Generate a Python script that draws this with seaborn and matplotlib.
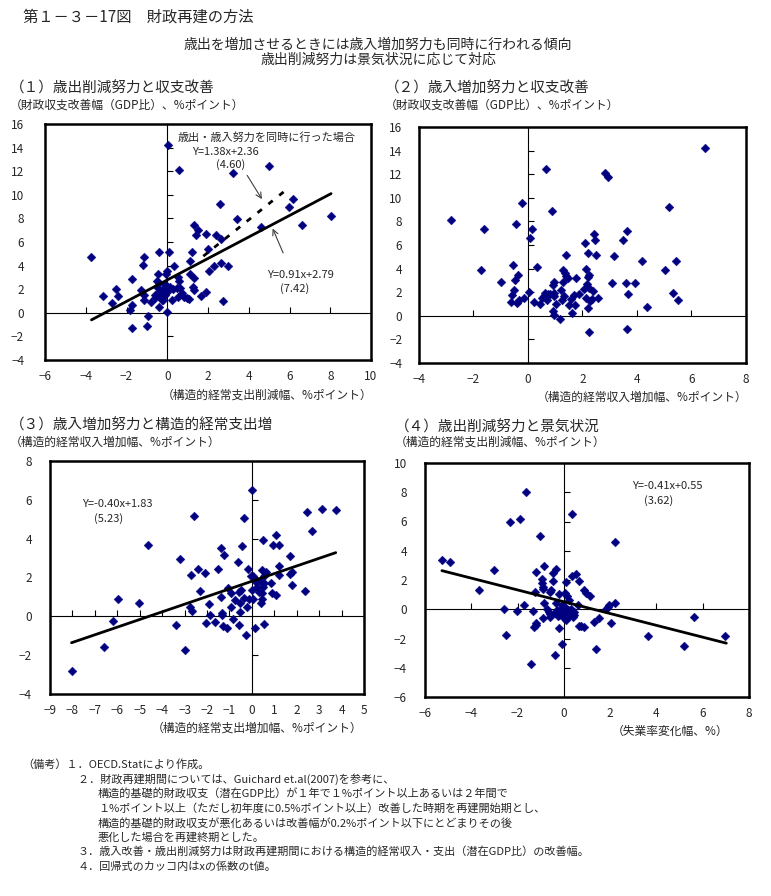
import numpy as np
import pandas as pd
import matplotlib
matplotlib.use("Agg")
import matplotlib.pyplot as plt
import seaborn as sns

# ---- data ----
# (1) expenditure cut vs. balance improvement
p1_x = [-3.76, -3.14, -2.50, -2.41, -2.70, -1.72, -1.72, -1.83, -1.75, -1.28, -1.13, -1.18,
        -1.15, -1.15, -0.93, -0.98, -0.82, -0.41, -0.46, -0.52, -0.39, -0.59, -0.5, -0.4,
        -0.3, -0.2, -0.1, -0.3, -0.2, -0.4, -0.6, -0.1, 0.0, -0.2, -0.25, -0.03, 0.02, 0.10,
        0.0, -0.08, 0.13, 0.21, 0.34, 0.29, 0.59, 0.54, 0.59, 0.46, 0.51, 0.62, 0.70, 0.83,
        0.95, 1.05, 1.11, 1.11, 1.23, 1.28, 1.31, 1.31, 1.33, 1.39, 1.49, 1.65, 1.88, 1.88,
        2.01, 2.05, 2.31, 2.39, 2.59, 2.64, 2.64, 2.75, 3.00, 3.24, 3.40, 4.60, 5.01, 5.97,
        6.19, 6.63, 8.04]
p1_y = [4.74, 1.39, 2.02, 1.39, 0.82, 2.87, 0.68, 0.20, -1.31, 1.90, 4.74, 4.03,
        1.53, 1.05, -0.23, -1.08, 0.88, 5.14, 3.32, 2.73, 0.45, 1.25, 2.2, 1.8,
        1.6, 2.0, 1.5, 1.3, 1.1, 2.5, 1.5, 2.4, 1.8, 1.7, 1.05, 0.06, 14.26, 5.17,
        3.58, 3.32, 2.16, 1.05, 3.95, 2.02, 12.13, 3.04, 2.67, 2.10, 1.31, 2.10, 1.68, 1.34,
        1.25, 1.19, 3.30, 4.38, 5.17, 2.19, 2.95, 1.96, 7.44, 6.56, 7.02, 1.39, 1.76, 6.70,
        5.43, 3.52, 3.95, 6.56, 9.26, 6.28, 4.23, 1.02, 3.95, 11.82, 7.93, 7.30, 12.47, 8.98,
        9.63, 7.44, 8.21]
p1_fit_x = [-3.72, 8.04]
p1_fit_y = [-0.60, 10.10]
p1_both_x = [1.77, 6.02]
p1_both_y = [4.80, 10.67]

# (2) revenue increase vs. balance improvement
p2_x = [-2.83, -1.73, -1.62, -0.99, -0.64, -0.59, -0.53, -0.55, -0.49, -0.44, -0.38, -0.40,
        -0.32, -0.23, -0.13, 0.04, 0.07, 0.15, 0.22, 0.33, 0.45, 0.50, 0.58, 0.66, 0.64, 0.70,
        0.75, 0.82, 0.88, 0.92, 0.92, 0.94, 0.94, 0.97, 0.94, 1.03, 1.19, 1.21, 1.26, 1.29,
        1.30, 1.31, 1.35, 1.38, 1.41, 1.47, 1.51, 1.56, 1.60, 1.68, 1.74, 1.76, 1.86, 2.04,
        2.11, 2.13, 2.14, 2.17, 2.19, 2.20, 2.22, 2.23, 2.25, 2.24, 2.29, 2.35, 2.39, 2.41,
        2.46, 2.50, 2.57, 2.84, 2.93, 3.09, 3.15, 3.49, 3.59, 3.64, 3.64, 3.67, 3.93, 4.18,
        4.37, 5.02, 5.18, 5.31, 5.44, 5.51, 6.50]
p2_y = [8.16, 3.91, 7.39, 2.89, 1.16, 1.78, 2.18, 4.33, 3.06, 7.82, 3.48, 1.10,
        1.30, 9.52, 1.53, 1.98, 6.63, 7.39, 1.16, 4.16, 0.96, 1.47, 1.64, 12.41, 1.95, 1.33,
        1.81, 1.87, 8.92, 0.40, 2.61, 2.86, 1.95, 1.67, 0.06, 1.02, -0.25, 2.18, 1.33, 3.91,
        2.89, 1.67, 3.60, 5.13, 3.37, 3.20, 0.91, 1.39, 0.20, 1.78, 0.91, 3.23, 1.87, 2.24,
        6.20, 3.99, 1.53, 2.66, 3.31, 5.35, 0.62, 2.38, 3.48, -1.36, 1.25, 1.39, 2.10, 6.97,
        6.46, 5.18, 1.53, 12.10, 11.73, 2.80, 5.07, 6.46, 2.80, 7.20, -1.10, 1.87, 2.75, 4.67,
        0.76, 3.91, 9.18, 1.95, 4.67, 1.36, 14.19]

# (3) revenue increase vs. structural expenditure increase
p3_x = [-8.04, -6.61, -6.17, -5.99, -5.01, -4.61, -3.36, -3.22, -2.96, -2.75, -2.67, -2.70,
        -2.60, -2.42, -2.30, -2.07, -2.05, -1.90, -1.87, -1.66, -1.49, -1.38, -1.38, -1.35,
        -1.35, -1.28, -1.22, -1.10, -1.08, -0.92, -0.91, -0.82, -0.74, -0.61, -0.59, -0.56,
        -0.53, -0.52, -0.48, -0.42, -0.34, -0.33, -0.24, -0.21, -0.18, -0.12, -0.01, -0.01,
        0.03, -0.04, 0.07, 0.15, 0.18, 0.25, 0.33, 0.37, 0.40, 0.43, 0.43, 0.46, 0.48, 0.49,
        0.52, 0.55, 0.55, 0.62, 0.85, 0.92, 0.95, 1.07, 1.07, 1.19, 1.19, 1.23, 1.69, 1.71,
        1.77, 1.77, 2.38, 2.48, 2.69, 3.14, 3.73]
p3_y = [-2.83, -1.60, -0.26, 0.88, 0.67, 3.66, -0.46, 2.94, -1.73, 0.50, 0.29, 2.11,
        5.15, 2.42, 1.29, 2.23, -0.36, 0.64, 0.07, -0.29, 2.44, 3.50, 1.01, 0.19,
        0.07, -0.50, 3.14, -0.60, 1.44, 1.18, 0.50, -0.12, 0.84, 2.82, 1.25, -0.46,
        0.24, 0.70, 1.34, 3.61, 0.96, 5.05, -0.96, 0.46, 2.45, 0.89, 6.51, 1.36,
        0.91, 2.09, 2.09, -0.62, 1.75, 1.53, 1.27, 1.84, 0.70, 1.18, 0.89, 2.39, 3.91, 1.53,
        1.70, 2.08, -0.41, 2.27, 1.70, 1.18, 3.67, 4.19, 1.08, 2.59, 2.11, 3.67, 3.11, 2.18,
        1.60, 2.27, 1.30, 5.36, 4.38, 5.51, 5.48]
p3_fit_x = [-8.04, 3.74]
p3_fit_y = [-1.36, 3.28]

# (4) expenditure cut vs. unemployment change
p4_x = [-5.27, -4.93, -3.65, -3.00, -2.59, -2.51, -2.31, -2.03, -1.90, -1.73, -1.64, -1.44,
        -1.34, -1.31, -1.22, -1.24, -1.20, -1.20, -1.05, -0.94, -0.94, -0.92, -0.91, -0.91,
        -0.86, -0.84, -0.73, -0.66, -0.62, -0.59, -0.55, -0.48, -0.45, -0.40, -0.37, -0.33,
        -0.32, -0.29, -0.26, -0.22, -0.19, -0.16, -0.09, -0.04, 0.00, 0.03, 0.06, 0.10, 0.10,
        0.14, 0.17, 0.20, 0.24, 0.29, 0.32, 0.36, 0.35, 0.39, 0.43, 0.53, 0.61, 0.65, 0.65,
        0.75, 0.86, 0.89, 0.94, 1.15, 1.30, 1.41, 1.54, 1.83, 1.90, 1.97, 2.03, 2.23, 2.23,
        3.63, 5.19, 5.62, 6.97, -0.6, -0.2, 0.2, 0.45, -0.1]
p4_y = [3.35, 3.21, 1.30, 2.67, 0.00, -1.78, 5.95, -0.14, 6.17, 0.30, 8.00, -3.76,
        -0.14, -1.23, -1.07, 1.21, 2.57, -0.96, 4.99, 2.05, 1.78, 1.55, 1.37, -0.62,
        2.96, 0.46, 0.00, -0.16, -0.50, 1.21, 1.32, 2.51, 1.96, -0.27, -3.12, 2.73,
        0.41, -0.05, -0.43, 1.05, -1.30, -0.05, -2.39, -0.39, -0.62, 0.18, 1.14, -0.73, 1.85,
        0.91, -0.05, -0.50, 0.64, -0.32, 0.00, 6.54, 2.28, -0.50, -0.16, 2.39, 0.30, 1.96, -1.14,
        -1.14, 1.32, -1.23, 1.09, 0.91, -0.89, -2.73, -0.62, 0.00, 0.18, 0.30, -0.96, 4.58, 0.41,
        -1.82, -2.51, -0.55, -1.82, -0.3, -0.4, -0.2, -0.4, 0.3]
p4_fit_x = [-5.27, 7.02]
p4_fit_y = [2.64, -2.32]

# ---- style ----
sns.set_style("white")
plt.rcParams['font.family'] = ['Noto Sans CJK JP', 'DejaVu Sans']
W, H = 771, 896
NAVY = "#000080"

fig = plt.figure(figsize=(W / 100, H / 100), dpi=100)


def px_axes(l, t, r, b):
    return fig.add_axes([l / W, 1 - b / H, (r - l) / W, (b - t) / H])


def ftext(x, y, s, size=9, ha='left', **kw):
    fig.text(x / W, 1 - y / H, s, fontsize=size, ha=ha, va='center', **kw)


def setup(ax, xlim, ylim, xticks, yticks, ypad):
    ax.set_xlim(xlim)
    ax.set_ylim(ylim)
    ax.set_xticks(xticks)
    ax.set_yticks(yticks)
    ax.tick_params(axis='both', length=0, labelsize=8.5)
    ax.tick_params(axis='y', pad=ypad)
    ax.tick_params(axis='x', pad=7)
    for sp in ax.spines.values():
        sp.set_linewidth(1.8)
        sp.set_color('black')
    ax.axhline(0, color='black', lw=0.8, zorder=1)
    ax.axvline(0, color='black', lw=0.8, zorder=1)
    # small tick marks sitting on the zero lines
    xt = [t for t in xticks if t != 0 and xlim[0] < t < xlim[1]]
    yt = [t for t in yticks if t != 0 and ylim[0] < t < ylim[1]]
    ax.plot(xt, [0] * len(xt), ls='none', marker=2, ms=4, mew=0.8, color='black', zorder=1)
    ax.plot([0] * len(yt), yt, ls='none', marker=1, ms=4, mew=0.8, color='black', zorder=1)
    ax.set_xlabel('')
    ax.set_ylabel('')


def scatter(ax, xs, ys):
    df = pd.DataFrame({'x': xs, 'y': ys})
    sns.scatterplot(data=df, x='x', y='y', ax=ax, marker='D', s=20, color=NAVY,
                    edgecolor=NAVY, linewidth=0.3, zorder=3)


def fitline(ax, xs, ys, ls='-'):
    sns.lineplot(x=xs, y=ys, ax=ax, color='black', lw=2.0, linestyle=ls, zorder=4)


# panel 1
ax1 = px_axes(45, 124, 371, 360)
scatter(ax1, p1_x, p1_y)
fitline(ax1, p1_fit_x, p1_fit_y)
fitline(ax1, p1_both_x, p1_both_y, ls=(0, (2, 3)))
setup(ax1, (-6, 10), (-4, 16), list(range(-6, 11, 2)), list(range(-4, 17, 2)), 15)
ax1.annotate('', xy=(4.72, 9.43), xytext=(3.85, 11.85),
             arrowprops=dict(arrowstyle='->', color='#404040', lw=0.8))
ax1.annotate('', xy=(5.12, 7.36), xytext=(5.74, 4.86),
             arrowprops=dict(arrowstyle='->', color='#404040', lw=0.8))

# panel 2
ax2 = px_axes(419, 127, 746, 363)
scatter(ax2, p2_x, p2_y)
setup(ax2, (-4, 8), (-4, 16), list(range(-4, 9, 2)), list(range(-4, 17, 2)), 12)

# panel 3
ax3 = px_axes(50, 461, 364, 694)
scatter(ax3, p3_x, p3_y)
fitline(ax3, p3_fit_x, p3_fit_y)
setup(ax3, (-9, 5), (-4, 8), list(range(-9, 6)), list(range(-4, 9, 2)), 13)

# panel 4
ax4 = px_axes(425, 463, 749, 697)
scatter(ax4, p4_x, p4_y)
fitline(ax4, p4_fit_x, p4_fit_y)
setup(ax4, (-6, 8), (-6, 10), list(range(-6, 9, 2)), list(range(-6, 11, 2)), 13)

# ---- texts ----
ftext(23, 17, '第１－３－17図　財政再建の方法', size=11)
ftext(378, 45, '歳出を増加させるときには歳入増加努力も同時に行われる傾向', size=10, ha='center')
ftext(378, 60, '歳出削減努力は景気状況に応じて対応', size=10, ha='center')

ftext(10, 88, '（１）歳出削減努力と収支改善', size=10.5)
ftext(10, 105, '（財政収支改善幅（GDP比）、%ポイント）', size=8.5)
ftext(385, 88, '（２）歳入増加努力と収支改善', size=10.5)
ftext(385, 105, '（財政収支改善幅（GDP比）、%ポイント）', size=8.5)
ftext(10, 425, '（３）歳入増加努力と構造的経常支出増', size=10.5)
ftext(10, 442, '（構造的経常収入増加幅、%ポイント）', size=8.5)
ftext(395, 427, '（４）歳出削減努力と景気状況', size=10.5)
ftext(395, 442, '（構造的経常支出削減幅、%ポイント）', size=8.5)

ftext(372, 395, '（構造的経常支出削減幅、%ポイント）', size=8.5, ha='right')
ftext(747, 397, '（構造的経常収入増加幅、%ポイント）', size=8.5, ha='right')
ftext(362, 728, '（構造的経常支出増加幅、%ポイント）', size=8.5, ha='right')
ftext(728, 731, '（失業率変化幅、%）', size=8.5, ha='right')

ftext(178, 137, '歳出・歳入努力を同時に行った場合', size=8)
ftext(192, 152, 'Y=1.38x+2.36', size=8)
ftext(216, 165, '(4.60)', size=8)
ftext(267, 275, 'Y=0.91x+2.79', size=8)
ftext(280, 289, '(7.42)', size=8)
ftext(82, 504, 'Y=-0.40x+1.83', size=8)
ftext(94, 519, '(5.23)', size=8)
ftext(632, 486, 'Y=-0.41x+0.55', size=8)
ftext(644, 501, '(3.62)', size=8)

notes = [
    (22, '（備考）１．OECD.Statにより作成。'),
    (78, '２．財政再建期間については、Guichard et.al(2007)を参考に、'),
    (98, '構造的基礎的財政収支（潜在GDP比）が１年で１%ポイント以上あるいは２年間で'),
    (98, '１%ポイント以上（ただし初年度に0.5%ポイント以上）改善した時期を再建開始期とし、'),
    (98, '構造的基礎的財政収支が悪化あるいは改善幅が0.2%ポイント以下にとどまりその後'),
    (98, '悪化した場合を再建終期とした。'),
    (78, '３．歳入改善・歳出削減努力は財政再建期間における構造的経常収入・支出（潜在GDP比）の改善幅。'),
    (78, '４．回帰式のカッコ内はxの係数のt値。'),
]
for i, (x, s) in enumerate(notes):
    ftext(x, 764 + 14.7 * i, s, size=8)

fig.savefig('out.png', dpi=100)
